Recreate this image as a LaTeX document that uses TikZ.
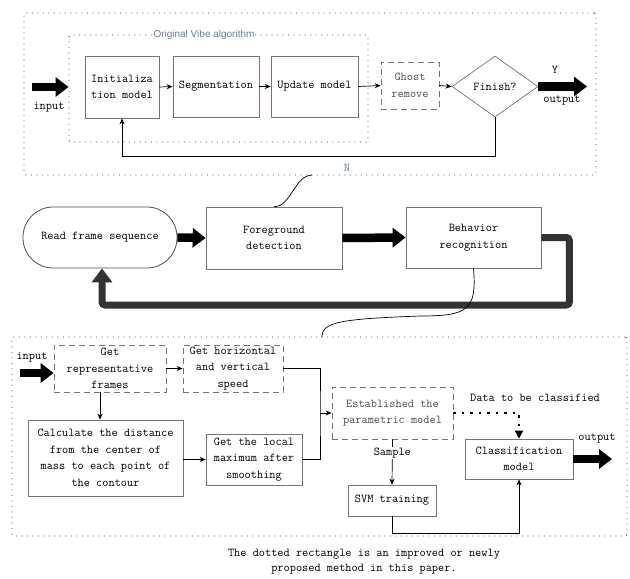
\documentclass[tikz,border=0pt]{standalone}
\usepackage{fontspec}
\newfontfamily\vibefont{Liberation Sans}
\usetikzlibrary{arrows.meta,shapes.geometric}
\definecolor{boxline}{RGB}{128,112,106}
\definecolor{vibeblue}{RGB}{96,128,160}
\definecolor{fbgray}{RGB}{51,51,51}
\begin{document}
\begin{tikzpicture}[x=1pt,y=-1pt,
	every node/.style={font=\ttfamily\fontsize{12}{16.5}\selectfont, align=center},
	box/.style={draw=boxline, line width=0.7pt, inner sep=0pt},
	dbox/.style={box, dash pattern=on 6pt off 4pt},
	grp/.style={draw=black!70, line width=0.9pt, dash pattern=on 1pt off 4.5pt, rounded corners=2pt, inner sep=0pt},
	arr/.style={-{Stealth[length=6pt,width=5pt]}, line width=0.7pt},
	bigarr/.style={-{Triangle[length=13pt,width=19pt]}, line width=8.5pt},
	fback/.style={-{Triangle[length=14pt,width=20pt]}, line width=7pt, draw=fbgray, rounded corners=3pt}]
	\useasboundingbox (0,0) rectangle (630,579);
	
	\node[grp, minimum width=572pt, minimum height=162pt] (topgrp) at (310,94) {};
	\node[grp, minimum width=299pt, minimum height=107pt] (vibe) at (218.5,88.5) {};
	\node[font=\vibefont\fontsize{10}{12}\selectfont, text=vibeblue, fill=white, inner sep=1pt] (vibelbl) at (204,35) {Original Vibe algorithm};
	\node[box, minimum width=74pt, minimum height=62pt] (init) at (122,87) {Initializa\\tion model};
	\node[box, minimum width=86pt, minimum height=61pt] (seg) at (216,86.5) {Segmentation};
	\node[box, minimum width=87pt, minimum height=61pt] (upd) at (314.5,86.5) {Update model};
	\node[dbox, minimum width=58pt, minimum height=47pt, text=black!70] (ghost) at (410,85.5) {Ghost\\remove};
	\node[draw=boxline, line width=0.7pt, diamond, minimum width=86pt, minimum height=61pt, inner sep=0pt] (fin) at (495,86.5) {Finish?};
	\coordinate (intop) at (32,87);
	\coordinate (outtop) at (587,86.5);
	\draw[bigarr] (intop) -- (vibe.west |- intop);
	\node (inlbl) at (49,107) {input};
	\draw[arr] (init.east) -- (seg.west);
	\draw[arr] (seg.east) -- (upd.west);
	\draw[arr] (upd.east) -- (ghost.west);
	\draw[arr] (ghost.east) -- (fin.west);
	\draw[bigarr] (fin.east) -- (outtop);
	\node (ylbl) at (555,70) {Y};
	\node (outlbl) at (562,101) {output};
	\draw[arr] (fin.south) -- ++(0,39) -| (init.south);
	\node[text=vibeblue] (nlbl) at (347,168) {N};
	
	\node[draw=black!70, line width=0.8pt, rounded corners=30pt, minimum width=154pt, minimum height=61pt] (read) at (100,237.5) {Read frame sequence};
	\node[box, minimum width=136pt, minimum height=62pt] (fg) at (274,238) {Foreground\\detection};
	\node[box, minimum width=135pt, minimum height=61pt] (beh) at (473.5,237.5) {Behavior\\recognition};
	\draw[bigarr] (read.east) -- (fg.west);
	\draw[bigarr] (fg.east) -- (beh.west);
	\coordinate (fbl) at (102,305);
	\draw[fback] (beh.east) -- ++(28,0) |- (fbl) -- (fbl |- read.south);
	\coordinate (topout) at (312,175);
	\coordinate (botin) at (322,337);
	\draw[line width=0.7pt] (topout) .. controls (294,176) and (291,207) .. (fg.north);
	\draw[line width=0.7pt] (beh.south) .. controls (477,310) and (468,316) .. (420,316) .. controls (340,319) and (322,322) .. (botin);
	
	\node[grp, minimum width=615pt, minimum height=199pt] (botgrp) at (319.5,436.5) {};
	\node[dbox, minimum width=112pt, minimum height=47pt] (rep) at (110,368.5) {Get\\representative\\frames};
	\node[dbox, minimum width=100pt, minimum height=47pt] (spd) at (233,368.5) {Get horizontal\\and vertical\\speed};
	\node[box, minimum width=155pt, minimum height=76pt] (calc) at (105.5,458) {Calculate the distance\\from the center of\\mass to each point of\\the contour};
	\node[box, minimum width=96pt, minimum height=51pt] (lmax) at (254,459.5) {Get the local\\maximum after\\smoothing};
	\node[dbox, minimum width=121pt, minimum height=52pt, text=black!70] (est) at (392.5,413) {Established the\\parametric model};
	\node[box, minimum width=88pt, minimum height=31pt] (svm) at (392,500.5) {SVM training};
	\node[box, minimum width=108pt, minimum height=40pt] (cls) at (519,459) {Classification\\model};
	\coordinate (inb) at (20,373);
	\coordinate (jn) at (320,413);
	\coordinate (outb) at (612,459);
	\draw[bigarr] (inb) -- (rep.west |- inb);
	\node (inblbl) at (32,357) {input};
	\draw[arr] (rep.east) -- (spd.west);
	\draw[arr] ([xshift=-10pt]rep.south) -- ([xshift=-10pt]rep.south |- calc.north);
	\draw[arr] (calc.east |- lmax) -- (lmax.west);
	\draw[line width=0.7pt] (spd.east) -| (jn) |- (lmax.east);
	\draw[arr] (jn) -- (est.west);
	\draw[arr] (est.south) -- node[pos=0.3, fill=white, inner sep=1pt] (smp) {Sample} (svm.north);
	\draw[line width=2.5pt, dash pattern=on 2.5pt off 6pt, -{Triangle[length=8pt,width=8pt]}] (est.east) -| (cls.north);
	\node (dlbl) at (535,398) {Data to be classified};
	\draw[arr] (svm.south) -- ++(0,17) -| (cls.south);
	\draw[bigarr] (cls.east) -- (outb);
	\node (outblbl) at (597,439) {output};
	
	\node[font=\ttfamily\fontsize{12}{15}\selectfont] (cap) at (364,562) {The dotted rectangle is an improved or newly\\proposed method in this paper.};
\end{tikzpicture}
\end{document}
